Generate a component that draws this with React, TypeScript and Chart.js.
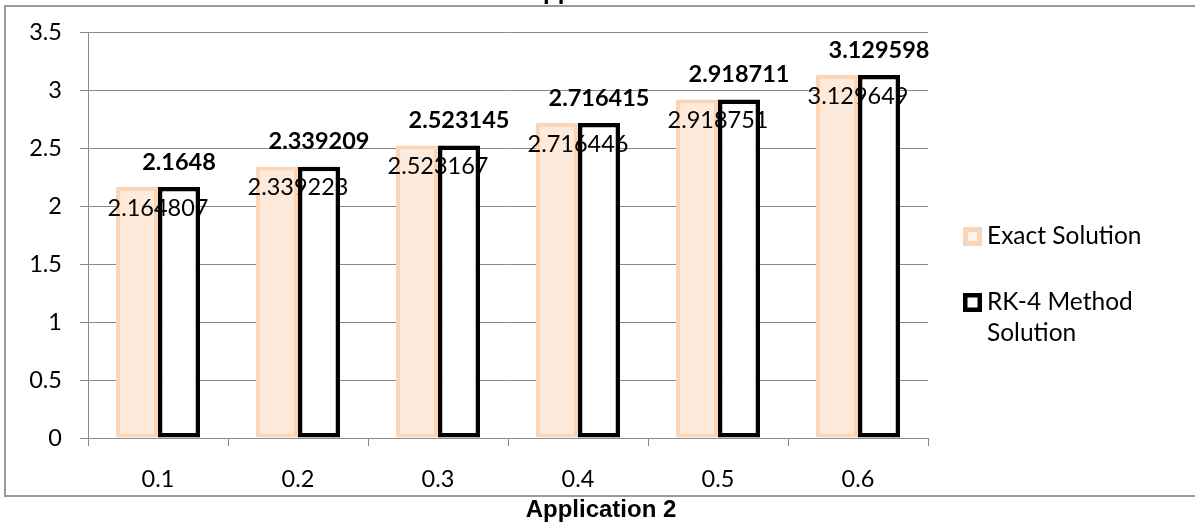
import React, { useEffect, useRef } from "react";
import { Chart, registerables } from "chart.js";

Chart.register(...registerables);

const categories = ["0.1", "0.2", "0.3", "0.4", "0.5", "0.6"];
const exactValues = [2.164807, 2.339223, 2.523167, 2.716446, 2.918751, 3.129649];
const rk4Values = [2.1648, 2.339209, 2.523145, 2.716415, 2.918711, 3.129598];
const seriesNames = ["Exact Solution", "RK-4 Method Solution"];
const legendLines = [["Exact Solution"], ["RK-4 Method", "Solution"]];
const yMin = 0;
const yMax = 3.5;
const yStep = 0.5;
const chartTitle = "Application 2";

const FONT = "Lato, 'Open Sans', sans-serif";
const GRID = "#8a8a8a";

const labelPlugin = {
  id: "barLabels",
  afterDatasetsDraw(chart: any) {
    const ctx = chart.ctx;
    ctx.save();
    ctx.fillStyle = "#000";
    ctx.textAlign = "center";
    ctx.textBaseline = "middle";
    chart.data.datasets.forEach((ds: any, di: number) => {
      const meta = chart.getDatasetMeta(di);
      meta.data.forEach((bar: any, i: number) => {
        const { x, y, width } = bar.getProps(["x", "y", "width"], true);
        const text = String(ds.data[i]);
        if (di === 0) {
          ctx.font = `23.5px ${FONT}`;
          ctx.fillText(text, x + width / 2, y + 21);
        } else {
          ctx.font = `bold 23.5px ${FONT}`;
          ctx.fillText(text, x, y - 25);
        }
      });
    });
    ctx.restore();
  },
};

const legendPlugin = {
  id: "sideLegend",
  afterDraw(chart: any) {
    const ctx = chart.ctx;
    const area = chart.chartArea;
    const boxX = area.right + 35;
    const tops = [227, 293];
    ctx.save();
    chart.data.datasets.forEach((ds: any, di: number) => {
      const top = tops[di];
      const size = 19;
      const bw = di === 0 ? 5 : 4.5;
      ctx.fillStyle = ds.borderColor;
      ctx.fillRect(boxX, top, size, size);
      ctx.fillStyle = di === 0 ? "#FEF4EC" : "#FFFFFF";
      ctx.fillRect(boxX + bw, top + bw, size - 2 * bw, size - 2 * bw);
      ctx.fillStyle = "#000";
      ctx.font = `24.5px ${FONT}`;
      ctx.textAlign = "left";
      ctx.textBaseline = "middle";
      legendLines[di].forEach((line, li) => {
        ctx.fillText(line, boxX + 24, top + size / 2 + li * 31);
      });
    });
    // titles
    ctx.font = `bold 24px 'Liberation Sans', Arial, sans-serif`;
    ctx.textAlign = "center";
    ctx.textBaseline = "alphabetic";
    ctx.fillText(chartTitle, 601, -1);
    ctx.fillText(chartTitle, 601, 517);
    ctx.restore();
  },
};

export default function App() {
  const ref = useRef<HTMLCanvasElement | null>(null);

  useEffect(() => {
    if (!ref.current) return;
    const chart = new Chart(ref.current, {
      type: "bar",
      data: {
        labels: categories,
        datasets: [
          {
            label: seriesNames[0],
            data: exactValues,
            backgroundColor: "#FDEADA",
            borderColor: "#FBD5B5",
            borderWidth: 4,
            borderSkipped: false,
            categoryPercentage: 0.6,
            barPercentage: 1.0,
          },
          {
            label: seriesNames[1],
            data: rk4Values,
            backgroundColor: "#FFFFFF",
            borderColor: "#000000",
            borderWidth: 4.5,
            borderSkipped: false,
            categoryPercentage: 0.6,
            barPercentage: 1.0,
          },
        ],
      },
      options: {
        animation: false,
        responsive: false,
        devicePixelRatio: 1,
        layout: { padding: { left: 0, right: 267, top: 31, bottom: 0 } },
        plugins: {
          legend: { display: false },
          title: { display: false },
          tooltip: { enabled: false },
        },
        scales: {
          x: {
            afterFit: (s: any) => {
              s.height = 87;
            },
            grid: {
              drawOnChartArea: false,
              drawTicks: true,
              tickLength: 8,
              color: GRID,
              lineWidth: 1,
            },
            border: { color: GRID, width: 1 },
            ticks: {
              color: "#000",
              font: { family: FONT, size: 23.5 },
              padding: 19,
              maxRotation: 0,
            },
          },
          y: {
            min: yMin,
            max: yMax,
            afterFit: (s: any) => {
              s.width = 88;
            },
            grid: {
              color: GRID,
              lineWidth: 1,
              tickLength: 8,
              drawTicks: true,
            },
            border: { color: GRID, width: 1 },
            ticks: {
              stepSize: yStep,
              color: "#000",
              font: { family: FONT, size: 23.5 },
              padding: 18,
              callback: (v: any) => String(Number(v)),
            },
          },
        },
      },
      plugins: [labelPlugin, legendPlugin],
    });
    return () => chart.destroy();
  }, []);

  return (
    <div
      style={{
        position: "absolute",
        left: 0,
        top: 0,
        width: 1195,
        height: 525,
        overflow: "hidden",
        background: "#fff",
      }}
    >
      <div
        style={{
          position: "absolute",
          left: 4,
          top: 5,
          width: 1220,
          height: 488,
          border: "2px solid #9a9a9a",
        }}
      />
      <canvas
        ref={ref}
        width={1195}
        height={525}
        style={{ position: "absolute", left: 0, top: 0, width: 1195, height: 525 }}
      />
    </div>
  );
}
